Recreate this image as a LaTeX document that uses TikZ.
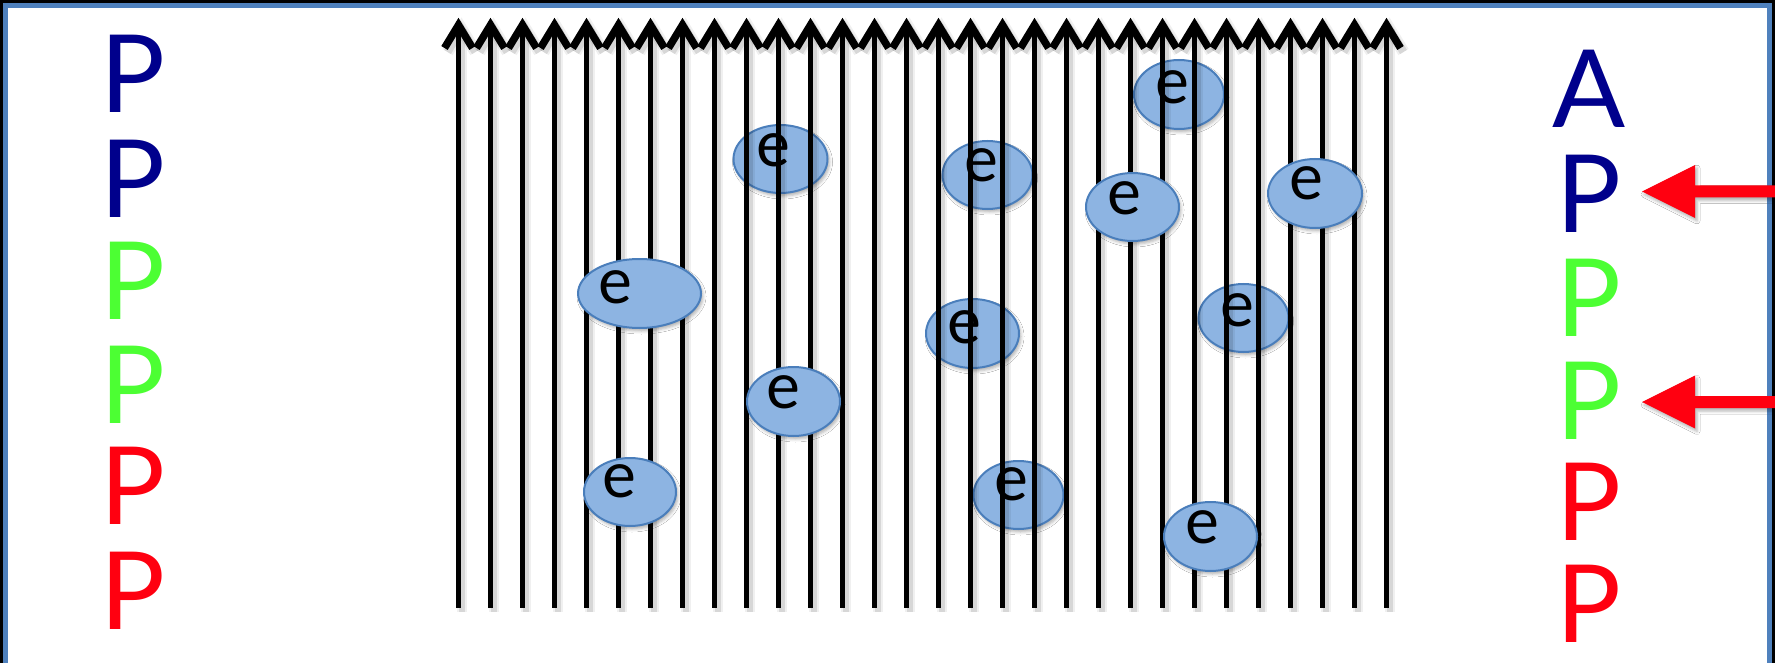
\documentclass[tikz,border=0pt]{standalone}
\usepackage{fontspec}
\setmainfont{Lato}
\usetikzlibrary{calc,shapes.geometric,shadows.blur}

\definecolor{pnavy}{RGB}{0,0,140}
\definecolor{pgreen}{RGB}{76,255,51}
\definecolor{pred}{RGB}{255,0,16}
\definecolor{efill}{RGB}{141,180,226}
\definecolor{edraw}{RGB}{74,126,187}
\definecolor{frameblue}{RGB}{79,129,189}

% electron: name, centre x, centre y, width, height, letter x, letter y
\newcommand\putelectron[7]{%
  \node[electron, minimum width=#4pt, minimum height=#5pt] (#1) at (#2,#3) {};
  \node[etext] (#1t) at (#6,#7) {e};
}

\begin{document}
\begin{tikzpicture}[x=1pt,y=-1pt,
  letter/.style={font=\fontsize{108}{120}\selectfont, inner sep=0pt, anchor=base},
  electron/.style={ellipse, draw=edraw, fill=efill, line width=2pt, inner sep=0pt,
    blur shadow={shadow xshift=2pt, shadow yshift=-3pt, shadow blur radius=3pt, shadow opacity=30}},
  etext/.style={font=\fontsize{64}{70}\selectfont, inner sep=0pt, text=black},
  fieldline/.style={line width=5.3pt, line cap=butt, line join=miter, black},
  fieldhead/.style={line width=7.5pt, line cap=butt, line join=miter, black},
  fieldshadow/.style={line cap=butt, line join=miter, black},
  pointer/.style={fill=pred,
    blur shadow={shadow xshift=2pt, shadow yshift=-3pt, shadow blur radius=3pt, shadow opacity=30}},
]
\useasboundingbox (0,0) rectangle (1775,663);
\clip (0,0) rectangle (1775,663);
\fill[white] (0,0) rectangle (1775,663);

% letters, left column
\node[letter, text=pnavy]  (pL1) at (133,113) {P};
\node[letter, text=pnavy]  (pL2) at (133,218) {P};
\node[letter, text=pgreen] (pL3) at (133,319) {P};
\node[letter, text=pgreen] (pL4) at (133,423) {P};
\node[letter, text=pred]   (pL5) at (133,524) {P};
\node[letter, text=pred]   (pL6) at (133,629) {P};

% letters, right column
\node[letter, text=pnavy]  (pR1) at (1589,128) {A};
\node[letter, text=pnavy]  (pR2) at (1589,233) {P};
\node[letter, text=pgreen] (pR3) at (1589,336) {P};
\node[letter, text=pgreen] (pR4) at (1589,439) {P};
\node[letter, text=pred]   (pR5) at (1589,540) {P};
\node[letter, text=pred]   (pR6) at (1589,642) {P};

% electrons lying beneath the field lines
\putelectron{u1}{780.5}{159}{94}{68}{773}{150}
\putelectron{u2}{987.5}{175}{90}{68}{981}{165}
\putelectron{u3}{1179}{94.5}{90}{69}{1172}{87.5}
\putelectron{u4}{972.5}{333.5}{93}{69}{964}{327.5}
\putelectron{u5}{1243.5}{318}{90}{68}{1237}{310}
\putelectron{u6}{1018.5}{495}{90}{68}{1011}{484}

% field lines with their soft shadows
\foreach \i in {0,...,29}{
  \pgfmathsetmacro\xx{458.5+32*\i}
  \begin{scope}[shift={(3,4)}]
    \draw[fieldshadow, line width=10pt, opacity=.06] (\xx,608) -- (\xx,25);
    \draw[fieldshadow, line width=12pt, opacity=.06] (\xx-14,48) -- (\xx,25) -- (\xx+14,48);
    \draw[fieldshadow, line width=6pt, opacity=.10] (\xx,608) -- (\xx,25);
    \draw[fieldshadow, line width=8pt, opacity=.10] (\xx-14,48) -- (\xx,25) -- (\xx+14,48);
  \end{scope}
}
\foreach \i in {0,...,29}{
  \pgfmathsetmacro\xx{458.5+32*\i}
  \draw[fieldline] (\xx,608) -- (\xx,25);
  \draw[fieldhead] (\xx-14,48) -- (\xx,25) -- (\xx+14,48);
}

% electrons lying over the field lines
\putelectron{o1}{1132.5}{207}{93}{68}{1124}{198}
\putelectron{o2}{1315}{193.5}{94}{69}{1306}{183.5}
\putelectron{o3}{1210.5}{536.5}{93}{69}{1202}{527}
\putelectron{o4}{639.5}{293.5}{123}{69}{615.5}{287.5}
\putelectron{o5}{793.5}{401.5}{93}{69}{783.5}{392.5}
\putelectron{o6}{630}{492}{92}{68}{619}{481}

% slide frame
\draw[black, line width=3.3pt] (1.65,1.65) rectangle (1773.35,720);
\draw[frameblue, line width=5pt] (5.8,5.8) rectangle (1769.2,720);

% red pointers coming in from the right edge
\coordinate (s1) at (1790,191.5);
\coordinate (s2) at (1790,402);
\coordinate (t1) at ($(s1 -| pR2.center)+(53,0)$);
\coordinate (t2) at ($(s2 -| pR4.center)+(53,0)$);
\foreach \s/\t in {s1/t1, s2/t2}{
  \fill[pointer] (\t) -- ++(53,-26.5) -- ++(0,20.5) -- ($(\s)+(0,-6)$)
    -- ($(\s)+(0,6)$) -- ($(\t)+(53,6)$) -- ++(0,20.5) -- cycle;
}
\end{tikzpicture}
\end{document}
